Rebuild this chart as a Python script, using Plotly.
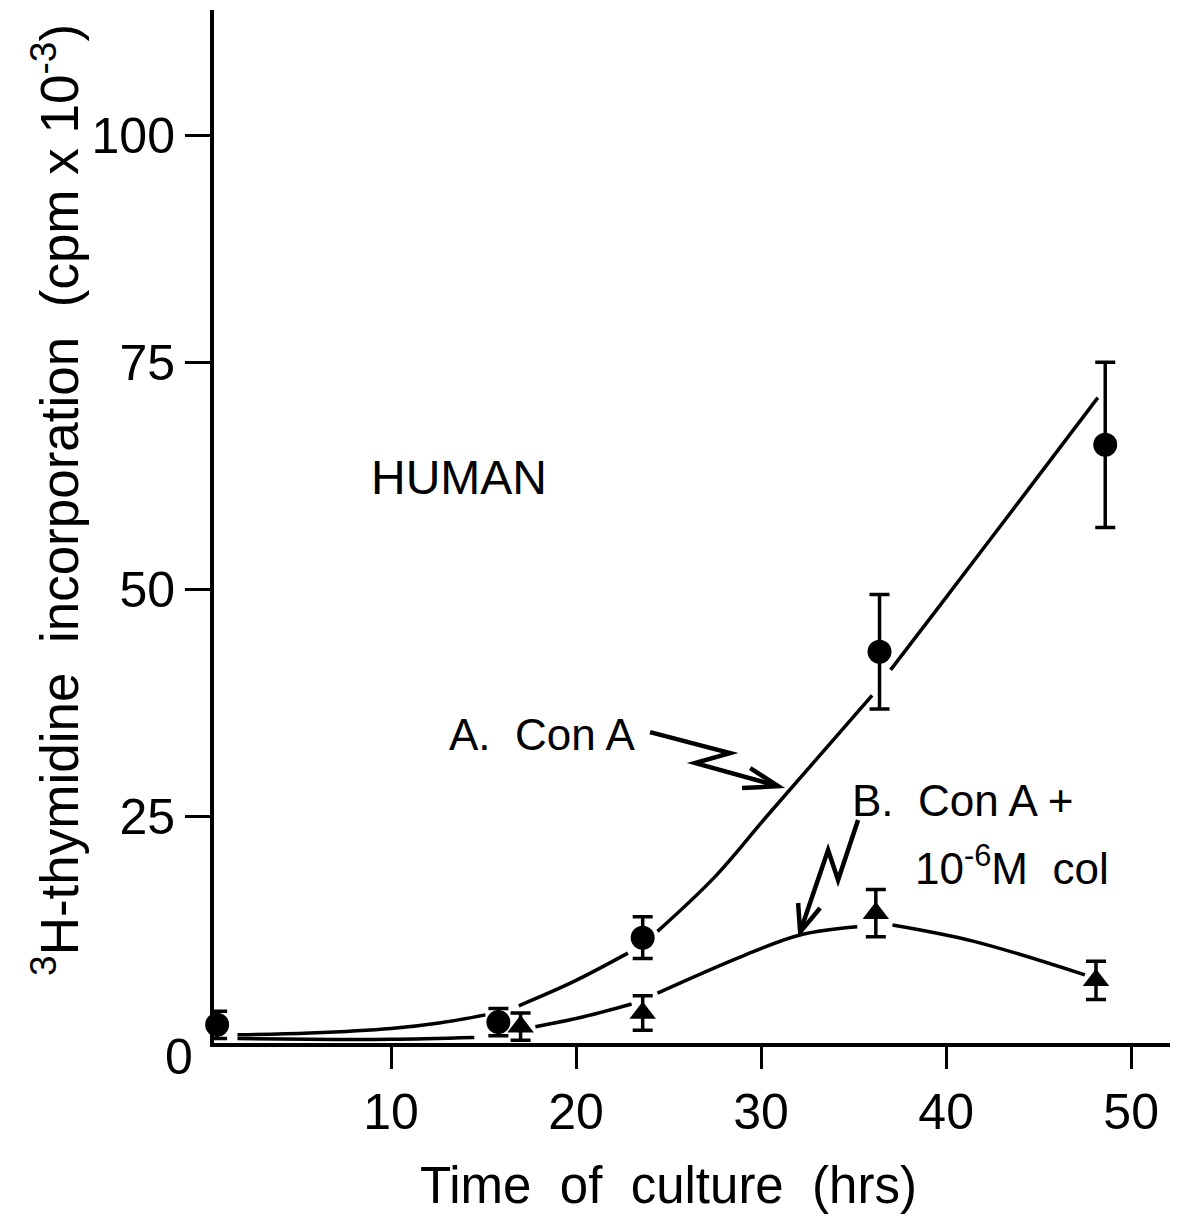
import plotly.graph_objects as go

# --- measured values -------------------------------------------------------
# A. Con A (filled circles): time (h), 3H-thymidine cpm x 10^-3, error
con_a_time = [0.6, 15.8, 23.6, 36.4, 48.6]
con_a_cpm = [2.0, 2.3, 11.6, 43.1, 65.9]
con_a_err = [1.5, 1.5, 2.3, 6.3, 9.1]

# B. Con A + 10^-6 M colchicine (filled triangles)
con_a_col_time = [17.0, 23.6, 36.2, 48.1]
con_a_col_cpm = [1.8, 3.3, 14.3, 6.9]
con_a_col_err = [1.5, 1.9, 2.6, 2.1]

# hand-fitted curves (None breaks the line where it passes a symbol)
curve_a_time = [1.7, 5.6, 10.0, 12.6, 15.1, None,
                16.9, 19.8, 22.8, None,
                24.4, 27.5, 30.4, 36.0, None,
                37.0, 39.7, 44.0, 48.2]
curve_a_cpm = [0.9, 1.1, 1.6, 2.2, 3.1, None,
               4.1, 6.7, 9.9, None,
               12.3, 18.3, 25.2, 38.3, None,
               41.1, 48.3, 59.8, 71.1]

curve_b_time = [1.7, 5.6, 10.0, 14.5, None,
                17.8, 20.4, 23.0, None,
                24.4, 28.9, 32.1, 35.2, None,
                37.1, 41.5, 47.5]
curve_b_cpm = [0.5, 0.4, 0.4, 0.6, None,
               1.8, 2.9, 4.3, None,
               5.5, 9.5, 11.9, 12.8, None,
               13.0, 11.2, 7.5]

x_ticks = [10, 20, 30, 40, 50]
y_ticks = [25, 50, 75, 100]

# label pointers (zig-zag arrows), in data units
arrow_a_line = [(24.0, 34.25), (28.32, 31.94), (26.43, 30.84), (30.92, 28.30)]
arrow_a_head = [(29.41, 30.29), (30.92, 28.30), (28.97, 28.08)]
arrow_b_line = [(35.24, 24.56), (34.16, 17.95), (33.62, 21.26), (32.11, 12.22)]
arrow_b_head = [(32.0, 15.42), (32.11, 12.22), (33.19, 14.87)]

FONT = "Liberation Sans, Arial, Helvetica, sans-serif"
INK = "black"

fig = go.Figure()

fig.add_trace(go.Scatter(
    x=curve_a_time, y=curve_a_cpm, mode="lines",
    line=dict(color=INK, width=3.5, shape="spline"),
    connectgaps=False, showlegend=False, hoverinfo="skip"))
fig.add_trace(go.Scatter(
    x=curve_b_time, y=curve_b_cpm, mode="lines",
    line=dict(color=INK, width=3.5, shape="spline"),
    connectgaps=False, showlegend=False, hoverinfo="skip"))

fig.add_trace(go.Scatter(
    x=con_a_time, y=con_a_cpm, mode="markers", name="A. Con A",
    marker=dict(symbol="circle", size=24, color=INK),
    error_y=dict(type="data", array=con_a_err, color=INK,
                 thickness=3.5, width=10),
    cliponaxis=False, showlegend=False))
fig.add_trace(go.Scatter(
    x=con_a_col_time, y=con_a_col_cpm, mode="markers",
    name="B. Con A + 10-6M col",
    marker=dict(symbol="triangle-up", size=23, color=INK),
    error_y=dict(type="data", array=con_a_col_err, color=INK,
                 thickness=3.5, width=10),
    cliponaxis=False, showlegend=False))


def poly_path(points):
    head, *rest = points
    return f"M {head[0]},{head[1]} " + " ".join(f"L {x},{y}" for x, y in rest)


for pts in (arrow_a_line, arrow_a_head, arrow_b_line, arrow_b_head):
    fig.add_shape(type="path", path=poly_path(pts), xref="x", yref="y",
                  line=dict(color=INK, width=4.5))

text_font = dict(family=FONT, size=44, color=INK)
fig.add_annotation(x=13.68, y=62.3, text="HUMAN", showarrow=False,
                   font=dict(family=FONT, size=48, color=INK),
                   xanchor="center", yanchor="middle")
fig.add_annotation(x=18.2, y=34.0, text="A.  Con A", showarrow=False,
                   font=text_font, xanchor="center", yanchor="middle")
fig.add_annotation(x=34.8, y=26.7, text="B.  Con A +", showarrow=False,
                   font=text_font, xanchor="left", yanchor="middle")
fig.add_annotation(x=38.2, y=19.6, text="10<sup>-6</sup>M  col",
                   showarrow=False, font=text_font,
                   xanchor="left", yanchor="middle")
# origin label shared by both axes
fig.add_annotation(x=-0.037, y=-0.014, xref="paper", yref="paper", text="0",
                   showarrow=False, font=dict(family=FONT, size=50, color=INK),
                   xanchor="center", yanchor="middle")

# axis titles
fig.add_annotation(x=0.4749, y=-0.1375, xref="paper", yref="paper",
                   text="Time  of  culture  (hrs)", showarrow=False,
                   font=dict(family=FONT, size=51, color=INK),
                   xanchor="center", yanchor="middle")
fig.add_annotation(x=-0.166, y=0.526, xref="paper", yref="paper",
                   text="<sup>3</sup>H-thymidine  incorporation  (cpm x 10<sup>-3</sup>)",
                   textangle=-90, showarrow=False,
                   font=dict(family=FONT, size=53, color=INK),
                   xanchor="center", yanchor="middle")

fig.update_xaxes(
    range=[0.43, 52.1], tickvals=x_ticks, ticktext=[str(v) for v in x_ticks],
    showline=True, linewidth=4, linecolor=INK, mirror=False,
    ticks="outside", ticklen=22, tickwidth=3, tickcolor=INK,
    showgrid=False, zeroline=False, automargin=False,
    tickfont=dict(family=FONT, size=50, color=INK))
fig.update_yaxes(
    range=[0, 113.8], tickvals=y_ticks, ticktext=[str(v) for v in y_ticks],
    showline=True, linewidth=4, linecolor=INK, mirror=False,
    ticks="outside", ticklen=25, tickwidth=3, tickcolor=INK,
    showgrid=False, zeroline=False, automargin=False,
    tickfont=dict(family=FONT, size=50, color=INK))

fig.update_layout(
    width=1181, height=1222,
    margin=dict(l=214, r=11, t=10, b=179, pad=0),
    paper_bgcolor="white", plot_bgcolor="white",
    showlegend=False)

fig.write_html("out.html")
